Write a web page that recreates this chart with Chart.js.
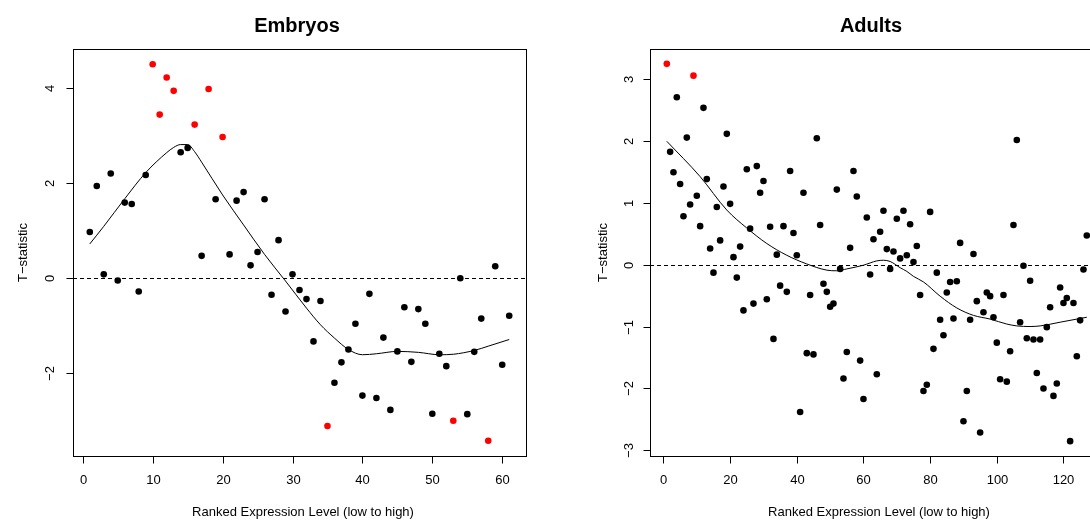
<!DOCTYPE html>
<html>
<head>
<meta charset="utf-8">
<script src="https://cdn.jsdelivr.net/npm/chart.js@4/dist/chart.umd.min.js"></script>
<style>
  html, body { margin: 0; padding: 0; background: #fff; overflow: hidden; width: 1090px; height: 520px; }
  canvas { position: absolute; top: 0; }
  #embryos { left: 0; }
  #adults { left: 545px; }
</style>
</head>
<body>
<canvas id="embryos" width="545" height="520"></canvas>
<canvas id="adults" width="575" height="520"></canvas>
<script>
// T-statistic per rank (rank = position + 1)
const embryoT = [
  0.97, 1.94, 0.08, 2.20, -0.05, 1.59, 1.56, -0.28, 2.17, 4.50,
  3.44, 4.22, 3.94, 2.65, 2.74, 3.23, 0.47, 3.98, 1.66, 2.97,
  0.50, 1.63, 1.81, 0.27, 0.55, 1.66, -0.35, 0.80, -0.70, 0.08,
  -0.25, -0.44, -1.33, -0.48, -3.11, -2.20, -1.77, -1.50, -0.96, -2.47,
  -0.33, -2.52, -1.25, -2.77, -1.54, -0.61, -1.76, -0.65, -0.96, -2.85,
  -1.59, -1.85, -3.00, 0.00, -2.86, -1.55, -0.85, -3.42, 0.25, -1.82,
  -0.79
];
const embryoRed = [10, 11, 12, 13, 16, 18, 20, 35, 53, 58];
const embryoFitX = [1, 3, 6, 9, 12, 13, 14, 15, 16, 17, 20, 23, 26, 29, 32, 34, 36, 38, 40, 42, 45, 48, 51, 53, 56, 58, 61];
const embryoFitY = [0.72, 1.09, 1.67, 2.22, 2.64, 2.75, 2.81, 2.81, 2.66, 2.44, 1.75, 1.12, 0.50, -0.06, -0.63, -0.98, -1.26, -1.50, -1.61, -1.59, -1.54, -1.56, -1.61, -1.60, -1.52, -1.43, -1.29];

const adultT = [
  3.24, 1.82, 1.49, 2.70, 1.30, 0.78, 2.05, 0.97, 3.05, 1.11,
  0.62, 2.53, 1.38, 0.26, -0.13, 0.93, 0.39, 1.26, 2.11, 0.98,
  0.12, -0.21, 0.29, -0.74, 1.54, 0.58, -0.63, 1.59, 1.16, 1.35,
  -0.56, 0.61, -1.20, 0.16, -0.34, 0.62, -0.44, 1.51, 0.51, 0.15,
  -2.38, 1.16, -1.43, -0.49, -1.45, 2.04, 0.64, -0.31, -0.44, -0.68,
  -0.63, 1.21, -0.07, -1.84, -1.41, 0.27, 1.51, 1.10, -1.55, -2.17,
  0.76, -0.16, 0.41, -1.77, 0.53, 0.87, 0.25, -0.07, 0.21, 0.74,
  0.10, 0.87, 0.15, 0.65, 0.04, 0.30, -0.49, -2.04, -1.94, 0.85,
  -1.36, -0.13, -0.89, -1.14, -0.45, -0.28, -0.87, -0.27, 0.35, -2.53,
  -2.04, -0.89, 0.17, -0.59, -2.71, -0.77, -0.45, -0.51, -0.85, -1.26,
  -1.85, -0.49, -1.89, -1.40, 0.64, 2.01, -0.93, -0.02, -1.19, -0.26,
  -1.21, -1.75, -1.21, -2.00, -1.01, -0.69, -2.12, -1.92, -0.37, -0.62,
  -0.54, -2.85, -0.62, -1.48, -0.90, -0.08, 0.47
];
const adultRed = [1, 9];
const adultFitX = [1, 11, 19, 25, 31, 37, 43, 49, 52, 55, 60, 64, 66, 68, 71, 73, 75, 78, 83, 88, 93, 98, 103, 106, 110, 113, 119, 127];
const adultFitY = [1.99, 1.42, 0.88, 0.59, 0.34, 0.15, 0.01, -0.09, -0.10, -0.07, -0.01, 0.06, 0.07, 0.05, -0.05, -0.11, -0.19, -0.28, -0.51, -0.70, -0.82, -0.88, -0.96, -0.99, -1.00, -0.99, -0.93, -0.85];

const embryoXTicks = [0, 10, 20, 30, 40, 50, 60];
const embryoYTicks = [-2, 0, 2, 4];
const adultXTicks = [0, 20, 40, 60, 80, 100, 120];
const adultYTicks = [-3, -2, -1, 0, 1, 2, 3];

const FONT = '"Liberation Sans", Arial, Helvetica, sans-serif';
const minus = s => String(s).replace('-', '\u2212');

// R-style frame: box, outward ticks, rotated y labels, dashed zero line
const rFrame = {
  id: 'rFrame',
  beforeDatasetsDraw(chart, args, o) {
    const { ctx, chartArea: a, scales: { y } } = chart;
    const y0 = Math.round(y.getPixelForValue(0)) + 0.5;
    ctx.save();
    ctx.strokeStyle = '#000';
    ctx.lineWidth = 1;
    ctx.setLineDash([4, 3]);
    ctx.beginPath();
    ctx.moveTo(a.left, y0);
    ctx.lineTo(a.right, y0);
    ctx.stroke();
    ctx.restore();
  },
  afterDraw(chart, args, o) {
    const { ctx, chartArea: a, scales: { x, y } } = chart;
    const L = Math.round(a.left) + 0.5, R = Math.round(a.right) + 0.5;
    const T = Math.round(a.top) + 0.5, B = Math.round(a.bottom) + 0.5;
    ctx.save();
    ctx.strokeStyle = '#000';
    ctx.fillStyle = '#000';
    ctx.lineWidth = 1;
    ctx.strokeRect(L, T, R - L, B - T);

    ctx.font = '13px ' + FONT;
    ctx.textAlign = 'center';
    ctx.textBaseline = 'alphabetic';
    o.xTicks.forEach(v => {
      const px = Math.round(x.getPixelForValue(v)) + 0.5;
      ctx.beginPath(); ctx.moveTo(px, B); ctx.lineTo(px, B + 7); ctx.stroke();
      ctx.fillText(minus(v), px, 484);
    });
    o.yTicks.forEach(v => {
      const py = Math.round(y.getPixelForValue(v)) + 0.5;
      ctx.beginPath(); ctx.moveTo(L - 7, py); ctx.lineTo(L, py); ctx.stroke();
      ctx.save();
      ctx.translate(o.yTickX, py);
      ctx.rotate(-Math.PI / 2);
      ctx.fillText(minus(v), 0, 0);
      ctx.restore();
    });

    ctx.fillText(o.xTitle, o.xTitleX, 515.5);
    ctx.save();
    ctx.translate(o.yTitleX, (a.top + a.bottom) / 2);
    ctx.rotate(-Math.PI / 2);
    ctx.fillText(o.yTitle, 0, 0);
    ctx.restore();

    ctx.font = 'bold 20px ' + FONT;
    ctx.fillText(o.title, o.titleX, 31.5);
    ctx.restore();
  }
};

function makeChart(id, t, red, fitX, fitY, opts) {
  const pts = t.map((v, i) => ({ x: i + 1, y: v }));
  const colors = t.map((v, i) => red.includes(i + 1) ? '#ff0000' : '#000000');
  const fit = fitX.map((v, i) => ({ x: v, y: fitY[i] }));
  return new Chart(document.getElementById(id).getContext('2d'), {
    type: 'scatter',
    data: {
      datasets: [{
        type: 'line',
        data: fit,
        borderColor: '#000',
        borderWidth: 1,
        pointRadius: 0,
        cubicInterpolationMode: 'monotone',
        fill: false,
        order: 0
      }, {
        data: pts,
        pointRadius: 3.3,
        pointBorderWidth: 0,
        pointBackgroundColor: colors,
        pointBorderColor: colors,
        order: 1
      }]
    },
    options: {
      responsive: false,
      animation: false,
      devicePixelRatio: 1,
      layout: { padding: opts.padding },
      plugins: {
        legend: { display: false },
        tooltip: { enabled: false },
        rFrame: opts.frame
      },
      scales: {
        x: { type: 'linear', min: opts.xMin, max: opts.xMax, display: false },
        y: { type: 'linear', min: opts.yMin, max: opts.yMax, display: false }
      }
    },
    plugins: [rFrame]
  });
}

makeChart('embryos', embryoT, embryoRed, embryoFitX, embryoFitY, {
  padding: { left: 73, top: 49, right: 19, bottom: 64 },
  xMin: -1.4, xMax: 63.4, yMin: -3.74, yMax: 4.82,
  frame: {
    title: 'Embryos', titleX: 297,
    xTitle: 'Ranked Expression Level (low to high)', xTitleX: 303,
    yTitle: 'T\u2212statistic', yTitleX: 26.5,
    yTickX: 54, xTicks: embryoXTicks, yTicks: embryoYTicks
  }
});

makeChart('adults', adultT, adultRed, adultFitX, adultFitY, {
  padding: { left: 105, top: 49, right: 16.4, bottom: 64 },
  xMin: -4.04, xMax: 132.04, yMin: -3.09, yMax: 3.48,
  frame: {
    title: 'Adults', titleX: 326,
    xTitle: 'Ranked Expression Level (low to high)', xTitleX: 334,
    yTitle: 'T\u2212statistic', yTitleX: 61.5,
    yTickX: 88.3, xTicks: adultXTicks, yTicks: adultYTicks
  }
});
</script>
</body>
</html>
